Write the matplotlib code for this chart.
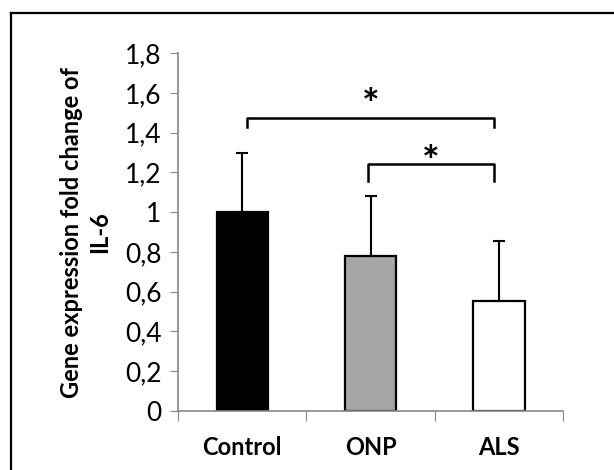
import numpy as np
import matplotlib.pyplot as plt
from matplotlib.lines import Line2D

groups = ['Control', 'ONP', 'ALS']
means = [1.0, 0.78, 0.555]
errors = [0.30, 0.30, 0.30]
colors = ['#000000', '#a6a6a6', '#ffffff']
yticks = [0, 0.2, 0.4, 0.6, 0.8, 1, 1.2, 1.4, 1.6, 1.8]
ytick_labels = ['0', '0,2', '0,4', '0,6', '0,8', '1', '1,2', '1,4', '1,6', '1,8']

plt.rcParams['font.family'] = ['Lato', 'DejaVu Sans']

fig = plt.figure(figsize=(6.14, 4.70), dpi=100)
ax = fig.add_axes([0.29, 0.1255, 0.627, 0.7615])

x = np.arange(len(groups))
ax.bar(x, means, width=0.40, color=colors, edgecolor='black', linewidth=1.6, zorder=2)
ax.errorbar(x, means, yerr=[np.zeros(3), errors], fmt='none', ecolor='black',
            elinewidth=1.5, capsize=4.5, capthick=1.5, zorder=3)

ax.set_xlim(-0.5, 2.5)
ax.set_ylim(0, 1.8)
ax.set_yticks(yticks)
ax.set_yticklabels(ytick_labels, fontsize=19)
ax.set_xticks([-0.5, 0.5, 1.5, 2.5])
ax.set_xticklabels([])
ax.set_xticks(x, minor=True)
ax.set_xticklabels(groups, minor=True, fontsize=17, fontweight='bold')
ax.tick_params(axis='x', which='minor', length=0, pad=18)
ax.tick_params(axis='x', which='major', length=7, color='#868686', direction='out')
ax.tick_params(axis='y', length=6, color='#868686', direction='out', pad=6)

for s in ['top', 'right']:
    ax.spines[s].set_visible(False)
for s in ['left', 'bottom']:
    ax.spines[s].set_color('#868686')
    ax.spines[s].set_linewidth(1.2)
    ax.spines[s].set_zorder(4)

ax.set_ylabel('Gene expression fold change of\nIL-6', fontsize=17, fontweight='bold',
              linespacing=1.25, labelpad=10)

# significance brackets
def bracket(x0, x1, y, drop, star_y):
    ax.plot([x0, x0, x1, x1], [y - drop, y, y, y - drop], color='black', lw=1.8,
            solid_joinstyle='round', clip_on=False, zorder=3)
    ax.text((x0 + x1) / 2, star_y, '*', ha='center', va='center', fontsize=30,
            fontweight='bold')

bracket(0.04, 1.96, 1.476, 0.05, 1.53)
bracket(0.98, 1.96, 1.24, 0.085, 1.24)

# outer frame
fig.add_artist(Line2D([11 / 614, 11 / 614], [0, 1 - 13 / 470], color='black', lw=1.6))
fig.add_artist(Line2D([11 / 614, 1], [1 - 13 / 470, 1 - 13 / 470], color='black', lw=1.6))

fig.savefig('out.png', dpi=100)
